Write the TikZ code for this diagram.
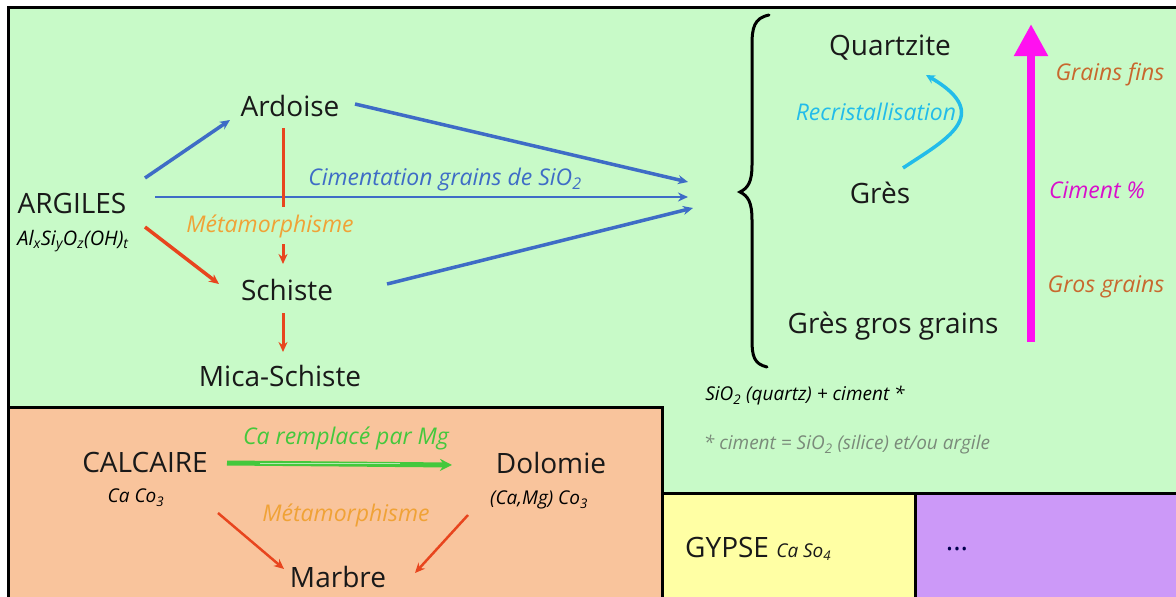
\documentclass[tikz,border=0pt]{standalone}
\usepackage{fontspec}
\setmainfont{Open Sans}
\usetikzlibrary{arrows.meta}
\definecolor{bggreen}{HTML}{C8FAC8}
\definecolor{bgorange}{HTML}{F9C49C}
\definecolor{bgyellow}{HTML}{FFFFA4}
\definecolor{bgpurple}{HTML}{CC99F8}
\definecolor{ablue}{HTML}{3E6CC6}
\definecolor{ared}{HTML}{E8451E}
\definecolor{aorange}{HTML}{F0A236}
\definecolor{acyan}{HTML}{22BCEA}
\definecolor{amag}{HTML}{FF10F0}
\definecolor{abrown}{HTML}{C8682E}
\definecolor{agreen}{HTML}{44C83C}
\definecolor{agrey}{HTML}{7A8A7A}
\tikzset{
  big/.style={font=\fontsize{28}{30}\selectfont, text=black!90, inner sep=0pt},
  small/.style={font=\fontsize{23}{25}\selectfont\itshape, inner sep=0pt},
  tiny/.style={font=\fontsize{19}{21}\selectfont\itshape, inner sep=0pt},
  blue arrow/.style={ablue, line width=3.5pt, -{Stealth[length=10pt,width=9pt]}},
  red arrow/.style={ared, line width=3pt, -{Stealth[length=10pt,width=9pt]}},
  box/.style={draw=black, line width=3pt},
}
\begin{document}
\begin{tikzpicture}[x=1pt,y=-1pt]
\useasboundingbox (0,0) rectangle (1176,597);
\fill[white] (0,0) rectangle (1176,597);
% regions
\filldraw[fill=bggreen, box] (8,7) -- (1180,7) -- (1180,493) -- (662,493) -- (662,407) -- (8,407) -- cycle;
\filldraw[fill=bgorange, box] (8,407) rectangle (662,602);
\filldraw[fill=bgyellow, box] (662,493) rectangle (915,602);
\filldraw[fill=bgpurple, box] (915,493) rectangle (1180,602);

% upper left
\node[big] (argiles) at (72,203) {ARGILES};
\node[tiny, font=\fontsize{20}{22}\selectfont\itshape] (argf) at (73,241) {Al\textsubscript{x}Si\textsubscript{y}O\textsubscript{z}(OH)\textsubscript{t}};
\node[big] (ardoise) at (290,106) {Ardoise};
\node[big] (schiste) at (287,290) {Schiste};
\node[big] (mica) at (280,376) {Mica-Schiste};
\node[small, text=ablue] (cim) at (445,180) {Cimentation grains de SiO\textsubscript{2}};
\node[small, text=aorange] (meta1) at (270,226) {Métamorphisme};

% brace
\coordinate (b1) at (688,182);
\coordinate (b2) at (688,197);
\coordinate (b3) at (693,208);
\draw[black, line width=3pt, line cap=round] (769,15) .. controls (754,18) and (752,28) .. (752,45) -- (752,165) .. controls (752,182) and (748,188) .. (740,192) .. controls (748,196) and (752,202) .. (752,220) -- (752,340) .. controls (752,356) and (754,364) .. (767,367);

% blue arrows
\coordinate (a1) at (145,178);
\coordinate (a1e) at (230,120);
\draw[blue arrow] (a1) -- (a1e);
\coordinate (a2) at (155,197);
\draw[blue arrow, line width=2.5pt] (a2) -- (b2);
\coordinate (a3) at (355,104);
\draw[blue arrow] (a3) -- (b1);
\coordinate (a4) at (387,284);
\draw[blue arrow] (a4) -- (b3);

% red
\coordinate (r1) at (283,128);
\coordinate (r2) at (283,207);
\draw[ared, line width=3pt] (r1) -- (r2);
\coordinate (r3) at (283,244);
\coordinate (r3e) at (283,264);
\draw[red arrow] (r3) -- (r3e);
\coordinate (r4) at (283,313);
\coordinate (r4e) at (283,352);
\draw[red arrow] (r4) -- (r4e);
\coordinate (r5) at (145,227);
\coordinate (r5e) at (219,284);
\draw[red arrow, line width=3.5pt] (r5) -- (r5e);

% right
\node[big] (quartzite) at (890,48) {Quartzite};
\node[big] (gres) at (880,193) {Grès};
\node[big] (gresgg) at (893,326) {Grès gros grains};
\node[small, text=acyan] (recr) at (876,112) {Recristallisation};
\coordinate (c1) at (903,168);
\coordinate (c2) at (926,75);
\draw[acyan, line width=3.5pt, -{Stealth[length=9pt,width=9pt]}] (c1) .. controls (945,140) and (995,115) .. (c2);

\coordinate (m1) at (1031,342);
\coordinate (m2) at (1031,24);
\draw[amag, line width=8pt, -{Triangle[length=32pt,width=32pt]}] (m1) -- (m2);
\node[small, text=abrown] (fins) at (1110,74) {Grains fins};
\node[small, text=amag!85!black] (cimp) at (1097,190) {Ciment \%};
\node[small, text=abrown] (gros) at (1106,287) {Gros grains};

\node[tiny, text=black] (sio) at (805,396) {SiO\textsubscript{2} (quartz) + ciment *};
\node[tiny, text=agrey] (note) at (847,445) {* ciment = SiO\textsubscript{2} (silice) et/ou argile};

% bottom left
\node[big] (calc) at (145,462) {CALCAIRE};
\node[tiny, text=black] (calcf) at (136,498) {Ca Co\textsubscript{3}};
\node[big] (dolo) at (551,463) {Dolomie};
\node[tiny, text=black] (dolof) at (539,500) {(Ca,Mg) Co\textsubscript{3}};
\node[small, text=agreen] (remp) at (346,438) {Ca remplacé par Mg};
\coordinate (g1) at (227,463);
\coordinate (g2) at (452,465);
\draw[agreen, line width=5pt, -{Stealth[length=12pt,width=12pt]}] (g1) -- (g2);
\draw[white!60!agreen, line width=1pt] (260,463) -- (400,463);
\node[small, text=aorange] (meta2) at (346,515) {Métamorphisme};
\node[big] (marbre) at (338,577) {Marbre};
\coordinate (d1) at (218,513);
\coordinate (d1e) at (284,569);
\coordinate (d2) at (468,515);
\coordinate (d2e) at (415,573);
\draw[red arrow, line width=2.5pt] (d1) -- (d1e);
\draw[red arrow, line width=2.5pt] (d2) -- (d2e);

% bottom right
\node[big, anchor=west] (gypse) at (685,549) {GYPSE \textit{\fontsize{19}{21}\selectfont Ca So\textsubscript{4}}};
\node[big, text=black!70!blue] (dots) at (957,549) {...};
\end{tikzpicture}
\end{document}
